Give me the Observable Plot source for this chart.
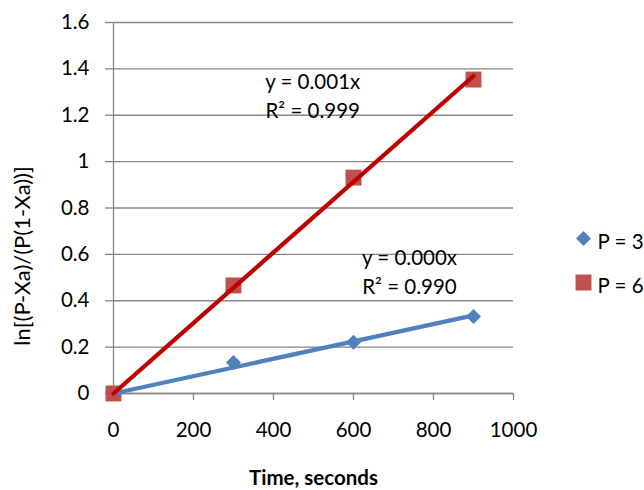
<!DOCTYPE html>
<html>
<head>
<meta charset="utf-8">
<script src="https://cdn.jsdelivr.net/npm/d3@7"></script>
<script src="https://cdn.jsdelivr.net/npm/@observablehq/plot@0.6"></script>
<style>
  html, body { margin: 0; padding: 0; background: #fff; }
  #chart { width: 644px; height: 490px; overflow: hidden; }
  svg { overflow: visible; }
</style>
</head>
<body>
<div id="chart"></div>
<script>
// ---- data ----
const times = [0, 300, 600, 900];
const seriesNames = ["P = 3", "P = 6"];
const valuesP3 = [0, 0.134, 0.221, 0.332];
const valuesP6 = [0, 0.466, 0.931, 1.354];
const trendLabels = ["y = 0.000x\nR² = 0.990", "y = 0.001x\nR² = 0.999"];
const xTicks = [0, 200, 400, 600, 800, 1000];
const yTicks = [0, 0.2, 0.4, 0.6, 0.8, 1, 1.2, 1.4, 1.6];
const xTitle = "Time, seconds";
const yTitle = "ln[(P-Xa)/(P(1-Xa))]";

const colors = { "P = 3": "#4F81BD", "P = 6": "#C0504D" };
const trendColors = { "P = 3": "#4F81BD", "P = 6": "#C00000" };

const points = [];
times.forEach((t, i) => points.push({ series: "P = 3", t, v: valuesP3[i] }));
times.forEach((t, i) => points.push({ series: "P = 6", t, v: valuesP6[i] }));

// linear trend through origin (least squares), from the data
function slope(vals) {
  let sxy = 0, sxx = 0;
  times.forEach((t, i) => { sxy += t * vals[i]; sxx += t * t; });
  return sxy / sxx;
}
const trend = [];
[["P = 3", valuesP3], ["P = 6", valuesP6]].forEach(([s, vals]) => {
  const m = slope(vals);
  trend.push({ series: s, t: times[0], v: m * times[0] });
  trend.push({ series: s, t: times[times.length - 1], v: m * times[times.length - 1] });
});

const FONT = "Lato, 'Liberation Sans', sans-serif";
const GRAY = "#868686";

const chart = Plot.plot({
  width: 644,
  height: 490,
  marginLeft: 113,
  marginRight: 131,
  marginTop: 22,
  marginBottom: 97,
  style: { fontFamily: FONT, fontSize: "20.5px", color: "#000", background: "#fff" },
  x: { domain: [0, 1000] },
  y: { domain: [0, 1.6] },
  marks: [
    Plot.gridY(yTicks, { stroke: GRAY, strokeOpacity: 1, strokeWidth: 1.3 }),
    Plot.axisY(yTicks, {
      tickSize: 8, tickPadding: 16, stroke: GRAY, strokeWidth: 1.3,
      tickFormat: d => String(d), fill: "#000", label: null
    }),
    Plot.axisX(xTicks, {
      tickSize: 7, tickPadding: 22, stroke: GRAY, strokeWidth: 1.3,
      tickFormat: d => String(d), fill: "#000", label: null
    }),
    Plot.text([yTitle], { frameAnchor: "left", textAnchor: "middle", dx: -91, dy: 48, rotate: -90, text: d => d, fill: "#000", fontSize: 22 }),
    Plot.text([xTitle], { frameAnchor: "bottom", dy: 91, text: d => d, fill: "#000", fontWeight: "bold" }),
    Plot.ruleY([0], { stroke: GRAY, strokeWidth: 1.3 }),
    Plot.ruleX([0], { stroke: GRAY, strokeWidth: 1.3 }),
    // markers
    Plot.dot(points.filter(d => d.series === "P = 3"), {
      x: "t", y: "v", symbol: "square", r: 6, rotate: 45, fill: colors["P = 3"], stroke: "none"
    }),
    Plot.dot(points.filter(d => d.series === "P = 6"), {
      x: "t", y: "v", symbol: "square", r: 9, fill: colors["P = 6"], stroke: "none"
    }),
    // trendlines
    Plot.line(trend.filter(d => d.series === "P = 3"), {
      x: "t", y: "v", stroke: trendColors["P = 3"], strokeWidth: 4.3, strokeLinecap: "round"
    }),
    Plot.line(trend.filter(d => d.series === "P = 6"), {
      x: "t", y: "v", stroke: trendColors["P = 6"], strokeWidth: 4.3, strokeLinecap: "round"
    }),
    // trend annotations
    Plot.text([trendLabels[1]], { x: 498, y: 1.29, text: d => d, lineHeight: 1.4, fill: "#000" }),
    Plot.text([trendLabels[0]], { x: 740, y: 0.53, text: d => d, lineHeight: 1.4, fill: "#000" }),
    // legend
    Plot.dot([seriesNames[0]], { frameAnchor: "top-right", dx: 70, dy: 216, symbol: "square", r: 6, rotate: 45, fill: colors["P = 3"] }),
    Plot.text([seriesNames[0]], { frameAnchor: "top-right", dx: 84, dy: 212, text: d => d, textAnchor: "start", fill: "#000" }),
    Plot.dot([seriesNames[1]], { frameAnchor: "top-right", dx: 70, dy: 260, symbol: "square", r: 9, fill: colors["P = 6"] }),
    Plot.text([seriesNames[1]], { frameAnchor: "top-right", dx: 84, dy: 256, text: d => d, textAnchor: "start", fill: "#000" })
  ]
});
document.getElementById("chart").appendChild(chart);
</script>
</body>
</html>
